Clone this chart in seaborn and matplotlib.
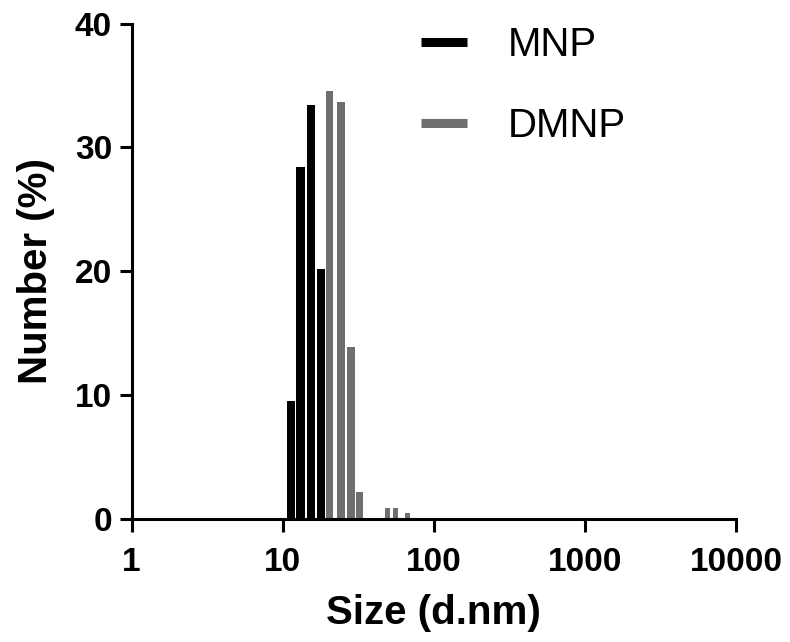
import numpy as np
import pandas as pd
import matplotlib
matplotlib.use("Agg")
import matplotlib.pyplot as plt
import seaborn as sns
from matplotlib.ticker import FixedLocator, FixedFormatter, NullLocator

sns.set_style("ticks")
plt.rcParams['font.family'] = ['Liberation Sans', 'DejaVu Sans']
for key in ["text.color", "axes.labelcolor", "xtick.color", "ytick.color", "axes.edgecolor"]:
    plt.rcParams[key] = "black"

# size bins (d.nm) and number (%)
mnp_size = [11.3, 13.1, 15.3, 18.0]
mnp_num = [9.5, 28.4, 33.4, 20.2]
dmnp_size = [20.4, 24.3, 28.2, 32.3, 49.5, 55.5, 66.5]
dmnp_num = [34.6, 33.7, 13.9, 2.2, 0.9, 0.9, 0.5]

x_ticks = [1, 10, 100, 1000, 10000]
x_labels = ["1", "10", "100", "1000", "10000"]
y_ticks = [0, 10, 20, 30, 40]

mnp = pd.DataFrame({"size": mnp_size, "num": mnp_num})
dmnp = pd.DataFrame({"size": dmnp_size, "num": dmnp_num})
gray = "#6f6f6f"

fig = plt.figure(figsize=(7.9, 6.42), dpi=100)
ax = fig.add_axes([0.1665, 0.192, 0.7655, 0.771])

sns.barplot(data=mnp, x="size", y="num", native_scale=True, log_scale=(True, False),
            color="black", saturation=1, linewidth=0, width=0.85, ax=ax)
# main DMNP peak and the small tail
sns.barplot(data=dmnp.iloc[:4], x="size", y="num", native_scale=True,
            color=gray, saturation=1, linewidth=0, width=0.85, ax=ax)
sns.barplot(data=dmnp.iloc[4:], x="size", y="num", native_scale=True,
            color=gray, saturation=1, linewidth=0, width=0.65, ax=ax)

ax.set_xscale("log")
ax.set_xlim(1, 10000)
ax.set_ylim(0, 40)
ax.xaxis.set_major_locator(FixedLocator(x_ticks))
ax.xaxis.set_major_formatter(FixedFormatter(x_labels))
ax.xaxis.set_minor_locator(NullLocator())
ax.set_yticks(y_ticks)

for s in ["top", "right"]:
    ax.spines[s].set_visible(False)
for s in ["left", "bottom"]:
    ax.spines[s].set_linewidth(2.2)
ax.tick_params(axis="both", width=2.2, length=9, labelsize=24, direction="out")
ax.tick_params(axis="x", pad=11)
ax.tick_params(axis="y", pad=5)
for lab in ax.get_xticklabels() + ax.get_yticklabels():
    lab.set_fontweight("bold")

ax.set_xlabel("Size (d.nm)", fontsize=29, fontweight="bold", labelpad=12)
ax.set_ylabel("Number (%)", fontsize=29, fontweight="bold", labelpad=14)

handles = [plt.Line2D([], [], color="black", lw=6.5, solid_capstyle="butt"),
           plt.Line2D([], [], color=gray, lw=6.5, solid_capstyle="butt")]
ax.legend(handles, ["MNP", "DMNP"], loc="upper left",
          bbox_to_anchor=(421 / 790, 1 - 26 / 642), bbox_transform=fig.transFigure,
          frameon=False, fontsize=29, handlelength=1.15, handletextpad=1.0,
          labelspacing=1.07, borderpad=0, borderaxespad=0)

fig.savefig("out.png", dpi=100)
